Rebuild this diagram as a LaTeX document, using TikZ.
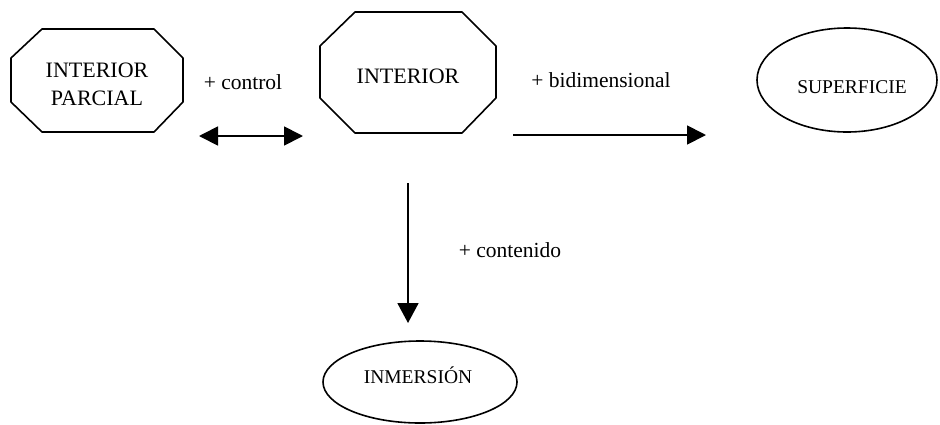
\documentclass[tikz,border=0pt]{standalone}
\usepackage{fontspec}
\setmainfont{Liberation Serif}
\usetikzlibrary{arrows.meta}
\begin{document}
\begin{tikzpicture}[x=1pt,y=-1pt,
  shapeline/.style={draw=black,line width=1.6pt,line join=round},
  conn/.style={draw=black,line width=1.8pt},
  head/.style={Triangle[length=19pt,width=19pt]},
  bigtxt/.style={font=\fontsize{22}{28}\selectfont,align=center,inner sep=0pt},
  lbltxt/.style={font=\fontsize{21.5}{26}\selectfont,inner sep=0pt},
  smalltxt/.style={font=\fontsize{19.5}{24}\selectfont,inner sep=0pt}]
\useasboundingbox[fill=white] (0,0) rectangle (940,424);
% shapes
\draw[shapeline] (42,29) -- (154,29) -- (183,58) -- (183,102) -- (154,132) -- (42,132) -- (11,102) -- (11,58) -- cycle;
\draw[shapeline] (355,12) -- (462,12) -- (496,46) -- (496,98) -- (462,133) -- (355,133) -- (320,98) -- (320,46) -- cycle;
\draw[shapeline] (847,80) ellipse [x radius=90, y radius=52];
\draw[shapeline] (420,382) ellipse [x radius=97, y radius=41];
% texts
\node[bigtxt] (ip) at (97,84) {INTERIOR\\PARCIAL};
\node[bigtxt] (int) at (408,76) {INTERIOR};
\node[smalltxt] (sup) at (852,87) {SUPERFICIE};
\node[smalltxt] (inm) at (418,375) {INMERSIÓN};
\node[lbltxt] (lc) at (243,82) {+ control};
\node[lbltxt] (lb) at (601,80) {+ bidimensional};
\node[lbltxt] (lco) at (510,250) {+ contenido};
% connectors
\coordinate (a1) at (199,136);
\coordinate (a2) at (303,136);
\coordinate (b1) at (513,135);
\coordinate (b2) at (706,135);
\coordinate (c1) at (408,183);
\coordinate (c2) at (408,323);
\draw[conn,{Triangle[length=19pt,width=19pt]}-{Triangle[length=19pt,width=19pt]}] (a1) -- (a2);
\draw[conn,-{Triangle[length=19pt,width=19pt]}] (b1) -- (b2);
\draw[conn,-{Triangle[length=20pt,width=21pt]}] (c1) -- (c2);
\end{tikzpicture}
\end{document}
